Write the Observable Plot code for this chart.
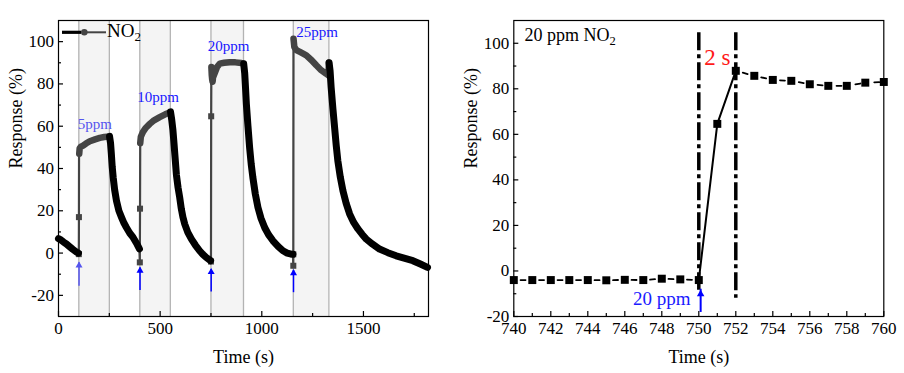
<!DOCTYPE html>
<html><head><meta charset="utf-8">
<script src="https://cdn.jsdelivr.net/npm/d3@7"></script>
<script src="https://cdn.jsdelivr.net/npm/@observablehq/plot@0.6"></script>
<style>
body{margin:0;background:#fff;}
#wrap{display:flex;width:904px;height:373px;overflow:hidden;}
svg{font-family:"Liberation Serif","Times New Roman",serif;}
</style></head><body><div id="wrap"></div>
<script>
// ---------- Left panel data ----------
const exposureStart = [100, 400, 750, 1155];
const exposureEnd = [250, 550, 910, 1330];
const concLabels = ["5ppm", "10ppm", "20ppm", "25ppm"];
const labelT = [95, 387, 734, 1170];
const labelR = [60.8, 73.6, 97.8, 104.6];
const labelColor = ["#5555ee", "#1717ff", "#1717ff", "#1717ff"];

// recovery (gas off) segments, black
const decaySegments = [
  [[0,6.8],[12,6.2],[25,5.2],[39,4.3],[55,3],[70,1.8],[88,0.5],[98,0]],
  [[251,55.2],[256,52],[260,46.9],[264,41],[269,35.8],[276,30],[285,24.8],[297,20],[310,16.9],[322,14.2],[334,12.1],[350,9.5],[367,7.4],[383,4.8],[398,2]],
  [[551,66.8],[557,63],[563,58],[568,52],[572,47],[576,42],[580,37],[588,31],[596,26.4],[604,21],[612,17],[621,13.7],[636,9.8],[654,6.6],[673,3.8],[694,1.1],[710,-0.6],[727,-2.1],[748,-3.6]],
  [[911,89.5],[916,85],[920,78],[924,70.6],[932,60],[940,50],[948,42],[956,35.8],[968,28],[981,21.6],[996,16.5],[1014,12.1],[1033,8.7],[1055,5.8],[1080,3.2],[1104,1.1],[1125,0],[1145,-0.5],[1153,-0.6]],
  [[1331,90],[1336,86],[1341,78.5],[1350,68],[1358,59.5],[1366,51],[1374,43.7],[1386,36],[1399,29.5],[1415,23.5],[1432,18.5],[1452,14.5],[1473,11.4],[1494,8.8],[1514,6.6],[1545,4.2],[1579,1.9],[1620,0.2],[1661,-1.3],[1700,-2.4],[1743,-3.6],[1780,-5.2],[1815,-6.8]]
];
// exposure (gas on) plateaus, dark gray
const plateauSegments = [
  [[102,47],[104,49.5],[110,50.3],[121,50.8],[135,51.8],[154,52.9],[180,53.8],[203,54.5],[225,54.9],[250,55.1]],
  [[402,52],[405,55],[415,57.2],[430,59.3],[449,61.1],[470,62.8],[498,64.3],[525,65.6],[550,66.6]],
  [[752,88],[753,86],[754,84],[756,82],[758,81],[760,83],[770,85.5],[780,88],[793,89.6],[815,90],[842,90.3],[870,90.2],[899,89.9],[910,89.5]],
  [[1156,101.4],[1160,97.5],[1170,96],[1190,95],[1219,93.5],[1245,91.2],[1268,88.8],[1292,86.5],[1317,84.8],[1328,84],[1330,90]]
];
// fast rise steps, thin gray
const jumpSegments = [
  [[98,0],[100,-0.5],[100.5,17],[101,45],[102,47]],
  [[398,2],[400,-4.4],[401,21],[402,52]],
  [[748,-3.6],[750,-4],[751,64.7],[752,88]],
  [[1153,-0.6],[1155,-6],[1156,101.4]]
];
const jumpMarkers = [[100,-0.5],[100.5,17],[400,-4.4],[401,21],[750,-4],[751,64.7],[1155,-0.6],[1155,-6]];
const arrowT = [101, 401, 751, 1156];
const arrowFrom = [-15.5, -17.5, -18.2, -18.5];
const arrowTo = [-4.4, -6.8, -7.5, -8];
const arrowColor = ["#5555ee", "#0000ff", "#0000ff", "#0000ff"];

const leftXTicks = [0, 500, 1000, 1500];
const leftXMinor = [250, 750, 1250, 1750];
const leftYTicks = [-20, 0, 20, 40, 60, 80, 100];
const leftYMinor = [-10, 10, 30, 50, 70, 90];

// ---------- Right panel data ----------
const zoomT = [740,741,742,743,744,745,746,747,748,749,750,751,752,753,754,755,756,757,758,759,760];
const zoomR = [-4,-4,-4,-4,-4,-4.1,-3.9,-4,-3.4,-3.7,-4,64.6,87.9,85.7,83.9,83.5,82,81.3,81.3,82.7,83.0];
const guideX = [750, 752];
const guideTop = [104.6, 104.6];
const guideBottom = [-8.5, -12];
const rightXTicks = [740,742,744,746,748,750,752,754,756,758,760];
const rightXMinor = [741,743,745,747,749,751,753,755,757,759];
const rightYTicks = [-20, 0, 20, 40, 60, 80, 100];
const rightYMinor = [-10, 10, 30, 50, 70, 90];

const rows = segs => segs.flatMap((s, i) => s.map(([t, r]) => ({seg: i, t, r})));
const FONT = "Liberation Serif";

function axisMarks(xT, xM, yT, yM) {
  return [
    Plot.axisX({ticks: xT, tickSize: 0, tickPadding: 5, tickFormat: d => String(d), label: null, fontSize: 17}),
    Plot.axisX({ticks: xT, tickSize: 5, dy: -5, text: null, label: null, strokeWidth: 1.2}),
    Plot.axisX({ticks: xM, tickSize: 3, dy: -3, text: null, label: null, strokeWidth: 1.2}),
    Plot.axisY({ticks: yT, tickSize: 0, tickPadding: 4.5, tickFormat: d => String(d), label: null, fontSize: 17}),
    Plot.axisY({ticks: yT, tickSize: 5, dx: 5, text: null, label: null, strokeWidth: 1.2}),
    Plot.axisY({ticks: yM, tickSize: 3, dx: 3, text: null, label: null, strokeWidth: 1.2}),
    Plot.frame({stroke: "black", strokeWidth: 1.2}),
    Plot.text(["Time (s)"], {frameAnchor: "bottom", lineAnchor: "bottom", dy: 46.7, text: d => d, fontSize: 18, fill: "black"}),
    Plot.text(["Response (%)"], {frameAnchor: "left", rotate: -90, dx: -42.6, text: d => d, fontSize: 18, fill: "black"})
  ];
}

const shade = exposureStart.map((s, i) => ({start: s, end: exposureEnd[i]}));
const edges = exposureStart.concat(exposureEnd);
const labels = concLabels.map((c, i) => ({c, t: labelT[i], r: labelR[i], col: labelColor[i]}));
const arrows = arrowT.map((t, i) => ({t, a: arrowFrom[i], b: arrowTo[i], col: arrowColor[i]}));

const left = Plot.plot({
  width: 450, height: 373,
  marginLeft: 58, marginRight: 22, marginTop: 20, marginBottom: 57,
  x: {domain: [0, 1820]},
  y: {domain: [-30, 110]},
  style: {fontFamily: FONT, fontSize: "17px", background: "white", color: "black", overflow: "visible"},
  marks: [
    Plot.rect(shade, {x1: "start", x2: "end", fill: "#f4f4f4"}),
    Plot.ruleX(edges, {stroke: "#b3b3b3", strokeWidth: 1.3}),
    Plot.line(rows(jumpSegments), {x: "t", y: "r", z: "seg", stroke: "#444", strokeWidth: 2.2}),
    Plot.dot(jumpMarkers, {x: d => d[0], y: d => d[1], symbol: "square", r: 3.4, fill: "#444"}),
    Plot.line(rows(plateauSegments), {x: "t", y: "r", z: "seg", stroke: "#444", strokeWidth: 6.5, strokeLinejoin: "round", strokeLinecap: "round"}),
    Plot.line(rows(decaySegments), {x: "t", y: "r", z: "seg", stroke: "black", strokeWidth: 7, strokeLinejoin: "round", strokeLinecap: "round"}),
    Plot.link(arrows, {x1: "t", x2: "t", y1: "a", y2: "b", stroke: "col", strokeWidth: 1.5}),
    Plot.dot(arrows, {x: "t", y: d => d.b - 1.5, symbol: "triangle", r: 2.6, fill: "col"}),
    Plot.text(labels, {x: "t", y: "r", text: "c", fill: "col", textAnchor: "start", fontSize: 15}),
    ...axisMarks(leftXTicks, leftXMinor, leftYTicks, leftYMinor)
  ]
});

const zoomRows = zoomT.map((t, i) => ({t, r: zoomR[i]}));
const before = zoomRows.filter(d => d.t <= 750);
const rise = zoomRows.filter(d => d.t >= 750 && d.t <= 752);
const after = zoomRows.filter(d => d.t >= 752);
const guides = guideX.map((x, i) => ({x, a: guideTop[i], b: guideBottom[i]}));

const right = Plot.plot({
  width: 454, height: 373,
  marginLeft: 63.3, marginRight: 20.7, marginTop: 20, marginBottom: 57,
  x: {domain: [740, 760]},
  y: {domain: [-20, 110]},
  style: {fontFamily: FONT, fontSize: "17px", background: "white", color: "black", overflow: "visible"},
  marks: [
    Plot.ruleX(guides, {x: "x", y1: "a", y2: "b", stroke: "black", strokeWidth: 3.5, strokeDasharray: "18,4,4,4"}),
    Plot.line(before, {x: "t", y: "r", stroke: "black", strokeWidth: 1.8, strokeDasharray: "5,13.5", strokeDashoffset: 11.75}),
    Plot.line(after, {x: "t", y: "r", stroke: "black", strokeWidth: 1.8, strokeDasharray: "5,14", strokeDashoffset: 11.75}),
    Plot.line(rise, {x: "t", y: "r", stroke: "black", strokeWidth: 2}),
    Plot.dot(zoomRows, {x: "t", y: "r", symbol: "square", r: 4.5, fill: "black"}),
    Plot.link([750.1], {x1: d => d, x2: d => d, y1: -18, y2: -7.8, stroke: "#0000ff", strokeWidth: 2}),
    Plot.dot([750.1], {x: d => d, y: -10.2, symbol: "triangle", r: 2.8, fill: "#0000ff"}),
    Plot.text(["2 s"], {x: 751, y: 93.5, text: d => d, fill: "#ff1a1a", fontSize: 23}),
    Plot.text(["20 ppm"], {x: 749.55, y: -12.2, text: d => d, fill: "#1a1aff", fontSize: 19, textAnchor: "end"}),
    ...axisMarks(rightXTicks, rightXMinor, rightYTicks, rightYMinor)
  ]
});

document.getElementById("wrap").append(left, right);

// legend (left panel)
const gl = d3.select(left).append("g").attr("text-anchor", "start");
gl.append("line").attr("x1", 62).attr("x2", 81).attr("y1", 32.3).attr("y2", 32.3).attr("stroke", "black").attr("stroke-width", 3.2);
gl.append("line").attr("x1", 81).attr("x2", 106).attr("y1", 32.3).attr("y2", 32.3).attr("stroke", "#444").attr("stroke-width", 2);
gl.append("circle").attr("cx", 84.3).attr("cy", 32.3).attr("r", 3.3).attr("fill", "#444");
const lt = gl.append("text").attr("x", 107).attr("y", 37.3).attr("font-size", 19).attr("fill", "black").attr("text-anchor", "start").text("NO");
lt.append("tspan").attr("font-size", 13).attr("dy", 4).text("2");

// annotation (right panel)
const noteT = 740.6, noteR = 100.7;
const xs = right.scale("x"), ys = right.scale("y");
const nt = d3.select(right).append("text").attr("x", xs.apply(noteT)).attr("y", ys.apply(noteR)).attr("font-size", 18).attr("fill", "black").attr("text-anchor", "start").text("20 ppm NO");
nt.append("tspan").attr("font-size", 12.5).attr("dy", 4).text("2");
</script></body></html>
